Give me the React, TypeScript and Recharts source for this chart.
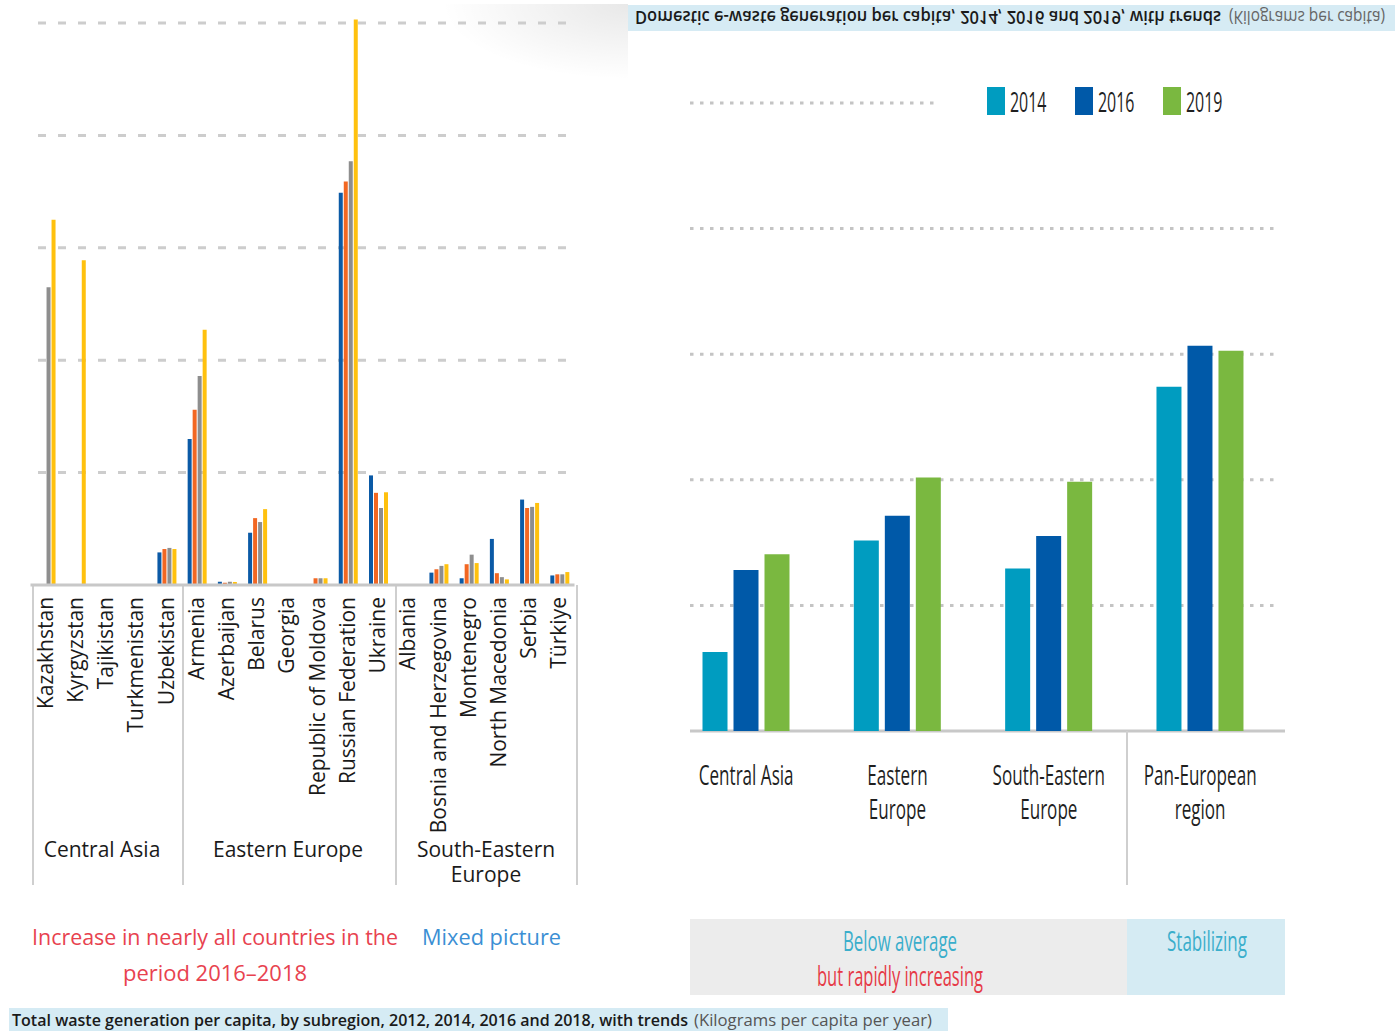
import React from 'react';
import { BarChart, Bar, XAxis, YAxis, CartesianGrid, Legend } from 'recharts';

// left panel: total waste per capita (kg per capita per year)
const countries = [
  'Kazakhstan', 'Kyrgyzstan', 'Tajikistan', 'Turkmenistan', 'Uzbekistan',
  'Armenia', 'Azerbaijan', 'Belarus', 'Georgia', 'Republic of Moldova', 'Russian Federation', 'Ukraine',
  'Albania', 'Bosnia and Herzegovina', 'Montenegro', 'North Macedonia', 'Serbia', 'Türkiye',
];
const waste2012 = [null, null, null, null, 2900, 13000, 290, 4650, null, null, 34900, 9750, null, 1100, 600, 4100, 7600, 850];
const waste2014 = [null, null, null, null, 3200, 15600, 200, 5950, null, 600, 35900, 8200, null, 1400, 1850, 1050, 6850, 950];
const waste2016 = [26500, null, null, null, 3300, 18600, 290, 5600, null, 600, 37700, 6850, null, 1700, 2700, 700, 6950, 950];
const waste2018 = [32500, 28900, null, null, 3200, 22700, 270, 6750, null, 600, 50300, 8250, null, 1850, 1950, 500, 7300, 1150];
const wasteTicks = [10000, 20000, 30000, 40000, 50000];

// right panel: domestic e-waste per capita (kg per capita)
const subregions = ['Central Asia', 'Eastern Europe', 'South-Eastern Europe', 'Pan-European region'];
const regionLabelLines = [['Central Asia'], ['Eastern', 'Europe'], ['South-Eastern', 'Europe'], ['Pan-European', 'region']];
const ewaste2014 = [3.14, 7.58, 6.47, 13.7];
const ewaste2016 = [6.41, 8.57, 7.76, 15.34];
const ewaste2019 = [7.04, 10.09, 9.92, 15.14];
const ewasteTicks = [5, 10, 15, 20, 25];

const wasteData = countries.map((country, i) => ({
  country,
  y2012: waste2012[i],
  y2014: waste2014[i],
  y2016: waste2016[i],
  y2018: waste2018[i],
}));

const ewasteData = subregions.map((region, i) => ({
  region,
  y2014: ewaste2014[i],
  y2016: ewaste2016[i],
  y2019: ewaste2019[i],
}));

const FONT = '"Open Sans", "Noto Sans", sans-serif';
const NARROW = 0.61;

const CountryTick = ({ x, y, payload }: any) => (
  <text
    x={x}
    y={y}
    dy={7}
    transform={`rotate(-90, ${x}, ${y})`}
    textAnchor="end"
    fontFamily={FONT}
    fontSize={21}
    fill="#1a1a1a"
  >
    {payload.value}
  </text>
);

const RegionTick = ({ x, y, payload }: any) => {
  const lines = regionLabelLines[subregions.indexOf(payload.value)] || [payload.value];
  return (
    <g transform={`translate(${x},${y})`}>
      {lines.map((line, i) => (
        <text
          key={i}
          x={0}
          y={54 + i * 34}
          transform={`scale(${NARROW},1)`}
          textAnchor="middle"
          fontFamily={FONT}
          fontSize={28}
          fill="#1f1f1f"
        >
          {line}
        </text>
      ))}
    </g>
  );
};

const renderLegend = ({ payload }: any) => (
  <div style={{ display: 'flex', paddingLeft: 52, background: '#fff', height: 30 }}>
    {(payload || []).map((entry: any) => (
      <div key={entry.value} style={{ display: 'flex', width: 88, height: 30 }}>
        <div style={{ width: 18, height: 28, marginTop: 1, background: entry.color }} />
        <svg width={60} height={30} style={{ marginLeft: 5 }}>
          <text x={0} y={26} transform={`scale(0.57,1)`} fontFamily={FONT} fontSize={28} fill="#1f1f1f">
            {entry.value}
          </text>
        </svg>
      </div>
    ))}
  </div>
);

const Overlay = () => (
  <svg width={1395} height={1031} style={{ position: 'absolute', left: 0, top: 0 }}>
    {/* flipped title of right panel */}
    <rect x={628} y={5} width={767} height={26} fill="#d6ebf4" />
    <g transform="translate(0,10.5) scale(1,-1)">
      <text x={635} y={0} textLength={586} lengthAdjust="spacingAndGlyphs" fontFamily={FONT} fontWeight={600} fontSize={18} fill="#1a1a1a">
        Domestic e-waste generation per capita, 2014, 2016 and 2019, with trends
      </text>
      <text x={1229} y={0} textLength={156} lengthAdjust="spacingAndGlyphs" fontFamily={FONT} fontSize={18} fill="#666">
        (Kilograms per capita)
      </text>
    </g>

    {/* left panel group frame */}
    {[33, 183, 396, 577].map((x) => (
      <line key={x} x1={x} x2={x} y1={585} y2={885} stroke="#cfcfcf" strokeWidth={2} />
    ))}
    <g fontFamily={FONT} fontSize={21} fill="#1a1a1a" textAnchor="middle">
      <text x={102} y={857}>Central Asia</text>
      <text x={288} y={857}>Eastern Europe</text>
      <text x={486} y={857}>South-Eastern</text>
      <text x={486} y={882}>Europe</text>
    </g>
    <g fontFamily={FONT} fontSize={22}>
      <text x={32} y={945} textLength={366} lengthAdjust="spacingAndGlyphs" fill="#e8424f">
        Increase in nearly all countries in the
      </text>
      <text x={123} y={981} textLength={184} lengthAdjust="spacingAndGlyphs" fill="#e8424f">
        period 2016–2018
      </text>
      <text x={422} y={945} textLength={139} lengthAdjust="spacingAndGlyphs" fill="#3b8fd4">
        Mixed picture
      </text>
    </g>

    {/* right panel axis and boxes */}
    <line x1={690} x2={1285} y1={731} y2={731} stroke="#c8c8c8" strokeWidth={3} />
    <line x1={1127} x2={1127} y1={731} y2={885} stroke="#cfcfcf" strokeWidth={2} />
    <rect x={690} y={919} width={437} height={76} fill="#ececec" />
    <rect x={1127} y={919} width={158} height={76} fill="#d5ebf3" />
    <g fontFamily={FONT} fontSize={27} textAnchor="middle">
      <text x={900} y={951} textLength={114} lengthAdjust="spacingAndGlyphs" fill="#3aaecb">Below average</text>
      <text x={900} y={986} textLength={166} lengthAdjust="spacingAndGlyphs" fill="#e63946">but rapidly increasing</text>
      <text x={1207} y={951} textLength={80} lengthAdjust="spacingAndGlyphs" fill="#3aaecb">Stabilizing</text>
    </g>

    {/* caption of left panel */}
    <rect x={9} y={1008} width={939} height={23} fill="#d5ebf4" />
    <text x={12} y={1026} textLength={676} lengthAdjust="spacingAndGlyphs" fontFamily={FONT} fontWeight={600} fontSize={17} fill="#1a1a1a">
      Total waste generation per capita, by subregion, 2012, 2014, 2016 and 2018, with trends
    </text>
    <text x={694} y={1026} textLength={238} lengthAdjust="spacingAndGlyphs" fontFamily={FONT} fontSize={17} fill="#555">
      (Kilograms per capita per year)
    </text>
  </svg>
);

export default function App() {
  return (
    <div style={{ position: 'absolute', left: 0, top: 0, width: 1395, height: 1031, background: '#fff', overflow: 'hidden', fontFamily: FONT }}>
      <div
        style={{
          position: 'absolute', left: 440, top: 4, width: 188, height: 76,
          background: 'radial-gradient(ellipse at 100% 0%, rgba(0,0,0,0.09), rgba(0,0,0,0) 70%)',
        }}
      />
      <Overlay />

      <div style={{ position: 'absolute', left: 0, top: 0 }}>
        <BarChart width={600} height={900} data={wasteData} margin={{ top: 5, right: 25.5, bottom: 0, left: 30.5 }} barCategoryGap="20%" barGap={1}>
          <CartesianGrid x={38} width={530} vertical={false} syncWithTicks stroke="#cdcdcd" strokeWidth={3} strokeDasharray="8 12" />
          <YAxis hide domain={[0, 51600]} ticks={wasteTicks} />
          <XAxis
            dataKey="country"
            interval={0}
            height={315}
            tickSize={0}
            tickMargin={12}
            tickLine={false}
            axisLine={{ stroke: '#c8c8c8', strokeWidth: 3 }}
            tick={<CountryTick />}
          />
          <Bar dataKey="y2012" name="2012" fill="#0b5aa6" isAnimationActive={false} />
          <Bar dataKey="y2014" name="2014" fill="#f26722" isAnimationActive={false} />
          <Bar dataKey="y2016" name="2016" fill="#8e8e8e" isAnimationActive={false} />
          <Bar dataKey="y2018" name="2018" fill="#ffc10e" isAnimationActive={false} />
        </BarChart>
      </div>

      <div style={{ position: 'absolute', left: 640, top: 40 }}>
        <BarChart width={700} height={860} data={ewasteData} margin={{ top: 63, right: 64.2, bottom: 0, left: 30.5 }} barSize={25} barGap={6}>
          <CartesianGrid x={50} width={590} vertical={false} syncWithTicks stroke="#c4c4c4" strokeWidth={3} strokeDasharray="3.5 6.5" />
          <YAxis hide domain={[0, 25]} ticks={ewasteTicks} />
          <XAxis
            dataKey="region"
            interval={0}
            height={169}
            tickSize={0}
            tickMargin={0}
            tickLine={false}
            axisLine={false}
            tick={<RegionTick />}
          />
          <Legend
            layout="horizontal"
            verticalAlign="middle"
            align="center"
            content={renderLegend}
            wrapperStyle={{ left: 295, top: 46, width: 350, height: 30 }}
          />
          <Bar dataKey="y2014" name="2014" fill="#009cc0" isAnimationActive={false} />
          <Bar dataKey="y2016" name="2016" fill="#0059a8" isAnimationActive={false} />
          <Bar dataKey="y2019" name="2019" fill="#7ab840" isAnimationActive={false} />
        </BarChart>
      </div>
    </div>
  );
}
